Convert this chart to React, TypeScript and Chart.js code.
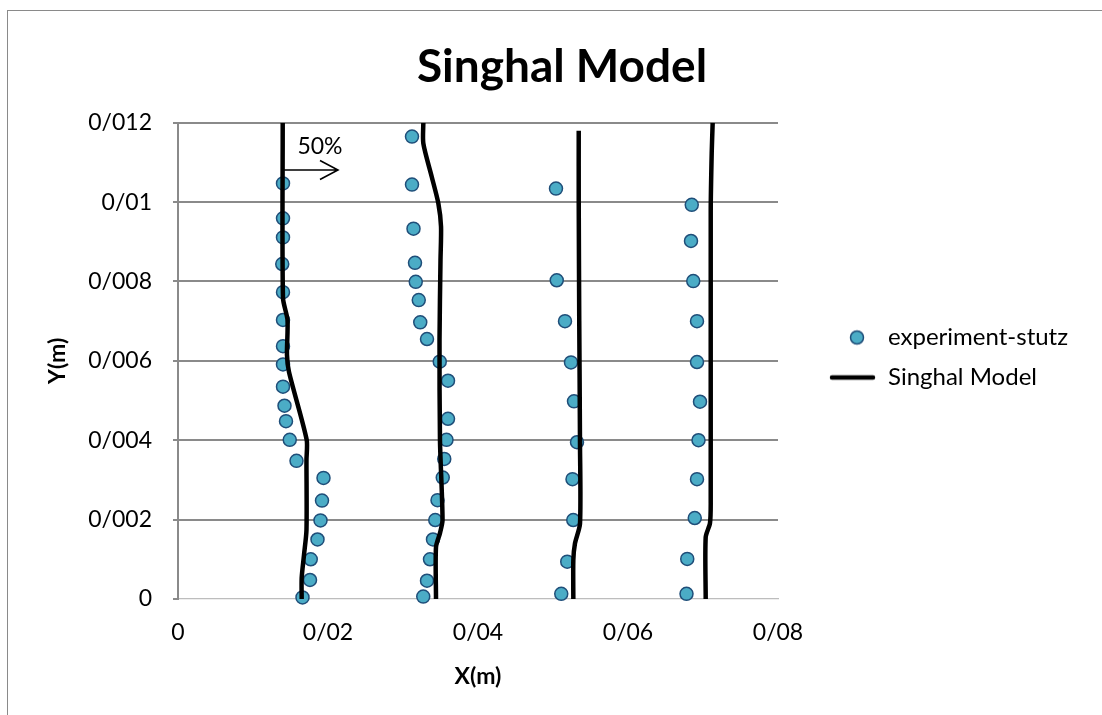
import React, { useEffect, useRef } from 'react';
import { Chart, registerables } from 'chart.js';

Chart.register(...registerables);

// ---------- data ----------
const xTickLabels = ['0', '0/02', '0/04', '0/06', '0/08'];
const yTickLabels = ['0', '0/002', '0/004', '0/006', '0/008', '0/01', '0/012'];

// experiment-stutz, profile 1..4
const exp1X = [0.0140, 0.0140, 0.0140, 0.0139, 0.0140, 0.0140, 0.0140, 0.0140, 0.0140, 0.0142, 0.0144, 0.0149, 0.0158, 0.0194, 0.0192, 0.0190, 0.0186, 0.0177, 0.0176, 0.0166];
const exp1Y = [0.01047, 0.00959, 0.00911, 0.00844, 0.00773, 0.00703, 0.00637, 0.00591, 0.00535, 0.00487, 0.00448, 0.00401, 0.00348, 0.00305, 0.00248, 0.00198, 0.00150, 0.00100, 0.00048, 0.00004];
const exp2X = [0.0312, 0.0312, 0.0314, 0.0316, 0.0317, 0.0321, 0.0323, 0.0332, 0.0349, 0.0360, 0.0360, 0.0358, 0.0355, 0.0353, 0.0346, 0.0343, 0.0340, 0.0336, 0.0332, 0.0327];
const exp2Y = [0.01165, 0.01044, 0.00933, 0.00847, 0.00799, 0.00753, 0.00697, 0.00655, 0.00598, 0.00550, 0.00454, 0.00401, 0.00353, 0.00306, 0.00249, 0.00199, 0.00150, 0.00100, 0.00046, 0.00006];
const exp3X = [0.0504, 0.0505, 0.0516, 0.0524, 0.0528, 0.0532, 0.0526, 0.0527, 0.0519, 0.0511];
const exp3Y = [0.01034, 0.00803, 0.00700, 0.00596, 0.00498, 0.00395, 0.00302, 0.00199, 0.00094, 0.00013];
const exp4X = [0.0685, 0.0684, 0.0687, 0.0692, 0.0692, 0.0696, 0.0694, 0.0692, 0.0689, 0.0679, 0.0678];
const exp4Y = [0.00993, 0.00902, 0.00801, 0.00700, 0.00597, 0.00497, 0.00400, 0.00302, 0.00204, 0.00101, 0.00013];

// Singhal Model, profile 1..4
const mod1X = [0.01396, 0.0140, 0.0146, 0.01453, 0.0148, 0.01716, 0.01713, 0.01713, 0.0168, 0.01649, 0.01649];
const mod1Y = [0.0120, 0.00758, 0.00703, 0.00615, 0.00572, 0.00401, 0.0035, 0.00174, 0.00111, 0.00053, 0];
const mod2X = [0.03271, 0.03271, 0.03383, 0.03471, 0.03507, 0.0350, 0.03487, 0.03493, 0.03527, 0.03493, 0.0344, 0.0344];
const mod2Y = [0.0120, 0.01148, 0.01064, 0.00997, 0.00938, 0.00854, 0.00653, 0.0040, 0.00199, 0.00166, 0.00131, 0];
const mod3X = [0.05343, 0.05343, 0.0535, 0.0536, 0.0536, 0.05293, 0.05271, 0.05271];
const mod3Y = [0.0118, 0.0100, 0.0070, 0.0039, 0.0019, 0.0014, 0.00098, 0];
const mod4X = [0.07129, 0.07116, 0.07103, 0.07103, 0.07093, 0.07036, 0.07036];
const mod4Y = [0.0120, 0.01123, 0.0098, 0.00242, 0.00191, 0.00156, 0];

// annotation "50%" arrow (data coordinates)
const arrowFrom = { x: 0.0140, y: 0.01081 };
const arrowTo = { x: 0.02133, y: 0.01081 };
const arrowText = { x: 0.01893, y: 0.01141, text: '50%' };

// ---------- style ----------
const FONT = 'Lato, "Open Sans", sans-serif';
const GRID = '#8a8a8a';
const DOT_FILL = '#4bacc6';
const DOT_EDGE = '#1f4e79';
const CANVAS_W = 1124;
const CANVAS_H = 715;
const LEGEND_W = 346;

const pts = (xs: number[], ys: number[]) => xs.map((x, i) => ({ x, y: ys[i] }));

export default function App() {
  const ref = useRef<HTMLCanvasElement>(null);

  useEffect(() => {
    const canvas = ref.current;
    if (!canvas) return;

    const mk = (w: number, h: number, draw: (g: CanvasRenderingContext2D) => void) => {
      const c = document.createElement('canvas');
      c.width = w;
      c.height = h;
      const g = c.getContext('2d');
      if (g) draw(g);
      return c;
    };
    const dotIcon = mk(82, 18, (g) => {
      g.beginPath();
      g.arc(63, 9, 6.5, 0, Math.PI * 2);
      g.fillStyle = DOT_FILL;
      g.fill();
      g.lineWidth = 1.5;
      g.strokeStyle = DOT_EDGE;
      g.stroke();
    });
    const lineIcon = mk(82, 8, (g) => {
      g.beginPath();
      g.moveTo(38, 4);
      g.lineTo(79, 4);
      g.lineWidth = 4.5;
      g.lineCap = 'round';
      g.strokeStyle = '#000';
      g.stroke();
    });

    const legendWidth = {
      id: 'legendWidth',
      beforeInit(chart: any) {
        const legend = chart.legend;
        if (legend) {
          const orig = legend.fit;
          legend.fit = function () {
            orig.call(this);
            this.width = LEGEND_W;
          };
        }
      },
    };

    const arrow = {
      id: 'arrow50',
      afterDatasetsDraw(chart: any) {
        const { ctx, scales } = chart;
        const x = scales.x;
        const y = scales.y;
        const x0 = x.getPixelForValue(arrowFrom.x);
        const y0 = y.getPixelForValue(arrowFrom.y);
        const x1 = x.getPixelForValue(arrowTo.x);
        const y1 = y.getPixelForValue(arrowTo.y);
        ctx.save();
        ctx.strokeStyle = '#000';
        ctx.lineWidth = 1.6;
        ctx.beginPath();
        ctx.moveTo(x0, y0);
        ctx.lineTo(x1, y1);
        ctx.moveTo(x1 - 18, y1 - 9.5);
        ctx.lineTo(x1, y1);
        ctx.lineTo(x1 - 18, y1 + 9.5);
        ctx.stroke();
        ctx.fillStyle = '#000';
        ctx.font = `23px ${FONT}`;
        ctx.textAlign = 'center';
        ctx.textBaseline = 'middle';
        ctx.fillText(arrowText.text, x.getPixelForValue(arrowText.x), y.getPixelForValue(arrowText.y));
        ctx.restore();
      },
    };

    const lineDs = (xs: number[], ys: number[], label: string) => ({
      type: 'scatter' as const,
      label,
      data: pts(xs, ys),
      showLine: true,
      borderColor: '#000',
      backgroundColor: '#000',
      borderWidth: 4.5,
      pointRadius: 0,
      pointHoverRadius: 0,
      tension: 0.25,
      order: 0,
    });

    const chart = new Chart(canvas, {
      type: 'scatter',
      data: {
        datasets: [
          {
            label: 'experiment-stutz',
            data: [...pts(exp1X, exp1Y), ...pts(exp2X, exp2Y), ...pts(exp3X, exp3Y), ...pts(exp4X, exp4Y)],
            backgroundColor: DOT_FILL,
            borderColor: DOT_EDGE,
            borderWidth: 1.5,
            pointRadius: 6.5,
            showLine: false,
            clip: false as any,
            order: 1,
          },
          lineDs(mod1X, mod1Y, 'Singhal Model'),
          lineDs(mod2X, mod2Y, 'Singhal Model 2'),
          lineDs(mod3X, mod3Y, 'Singhal Model 3'),
          lineDs(mod4X, mod4Y, 'Singhal Model 4'),
        ],
      },
      options: {
        responsive: false,
        animation: false,
        devicePixelRatio: 1,
        layout: { padding: 0 },
        font: { family: FONT },
        plugins: {
          tooltip: { enabled: false },
          title: {
            display: true,
            text: 'Singhal Model',
            color: '#000',
            font: { family: FONT, size: 46, weight: 'bold', lineHeight: 1.2 },
            padding: { top: 39.4, bottom: 28.1 },
          },
          legend: {
            display: true,
            position: 'right',
            align: 'center',
            labels: {
              usePointStyle: true,
              pointStyleWidth: 82,
              padding: 16,
              color: '#000',
              font: { family: FONT, size: 24 },
              generateLabels: () => [
                { text: 'experiment-stutz', pointStyle: dotIcon as any, fillStyle: DOT_FILL, strokeStyle: DOT_EDGE, lineWidth: 0, hidden: false, datasetIndex: 0, fontColor: '#000' },
                { text: 'Singhal Model', pointStyle: lineIcon as any, fillStyle: '#000', strokeStyle: '#000', lineWidth: 0, hidden: false, datasetIndex: 1, fontColor: '#000' },
              ],
            },
          },
        },
        scales: {
          x: {
            type: 'linear',
            min: 0,
            max: 0.08,
            afterFit: (s: any) => { s.height = 116; },
            ticks: {
              stepSize: 0.02,
              color: '#000',
              padding: 20,
              font: { family: FONT, size: 23 },
              callback: (_v: any, i: number) => xTickLabels[i],
            },
            grid: { display: false, drawTicks: false, tickLength: 0 },
            border: { display: true, color: '#bdbdbd', width: 1.25, dash: [4, 3] },
            title: {
              display: true,
              text: 'X(m)',
              color: '#000',
              font: { family: FONT, size: 23, weight: 'bold', lineHeight: 1.2 },
              padding: { top: 0, bottom: 25 },
            },
          },
          y: {
            type: 'linear',
            min: 0,
            max: 0.012,
            afterFit: (s: any) => { s.width = 178; },
            ticks: {
              stepSize: 0.002,
              color: '#000',
              padding: 21,
              font: { family: FONT, size: 23 },
              callback: (_v: any, i: number) => yTickLabels[i],
            },
            grid: {
              display: true,
              drawTicks: true,
              tickLength: 5,
              lineWidth: 2,
              color: (c: any) => (c.tick && c.tick.value === 0 ? 'rgba(0,0,0,0)' : GRID),
              tickColor: GRID,
            },
            border: { display: true, color: GRID, width: 2 },
            title: {
              display: true,
              text: 'Y(m)',
              color: '#000',
              font: { family: FONT, size: 23, weight: 'bold', lineHeight: 1.2 },
              padding: { top: 44, bottom: 0 },
            },
          },
        },
      },
      plugins: [legendWidth, arrow],
    } as any);

    return () => chart.destroy();
  }, []);

  return (
    <div style={{ position: 'fixed', left: 0, top: 0, width: 1102, height: 715, overflow: 'hidden', background: '#fff' }}>
      <div
        style={{
          position: 'absolute',
          left: 7,
          top: 10,
          width: 2000,
          height: 2000,
          borderLeft: '1.5px solid #8a8a8a',
          borderTop: '1.5px solid #8a8a8a',
        }}
      />
      <canvas
        ref={ref}
        width={CANVAS_W}
        height={CANVAS_H}
        style={{ position: 'absolute', left: 0, top: 0, width: CANVAS_W, height: CANVAS_H }}
      />
    </div>
  );
}
